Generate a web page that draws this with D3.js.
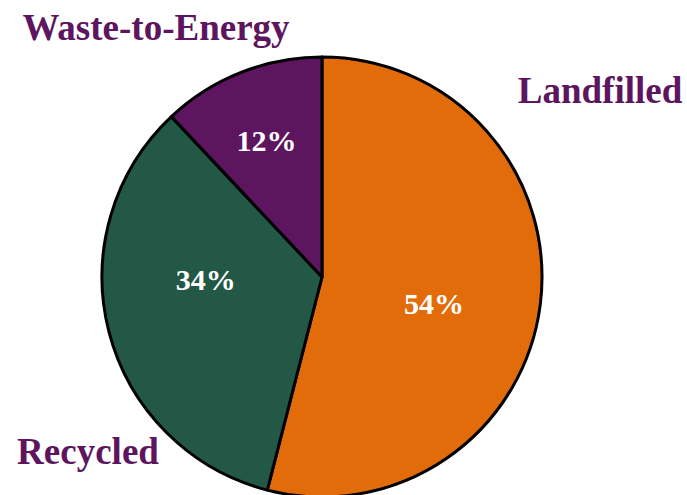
<!DOCTYPE html>
<html>
<head>
<meta charset="utf-8">
<script src="https://cdn.jsdelivr.net/npm/d3@7"></script>
<style>
  body { margin: 0; background: #fff; }
  svg { display: block; }
</style>
</head>
<body>
<div id="chart"></div>
<script>
// shares of waste, clockwise from 12 o'clock
var categories = ["Landfilled", "Recycled", "Waste-to-Energy"]
var shares = [54, 34, 12]
var colors = ["#e36c0a", "#235846", "#5c155e"]

var w = 687
var h = 495
var cx = 322
var cy = 277
var radius = 220

// where the outside category names sit
var namePos = {
  "Landfilled": [600, 103],
  "Recycled": [88, 464],
  "Waste-to-Energy": [156, 40]
}
// the percent labels are not on the plain centroid, nudge them a bit
var pctNudge = {
  "Landfilled": [-8, 11],
  "Recycled": [1, -28],
  "Waste-to-Energy": [-11, -24]
}

var data = categories.map((c, i) => ({ name: c, value: shares[i], color: colors[i] }))

var svg = d3.select("#chart")
            .append("svg")
            .attr("width", w)
            .attr("height", h)

var pie = d3.pie()
    .sort(null)
    .value(d => d.value)

var arc = d3.arc()
    .innerRadius(0)
    .outerRadius(radius)

var labelArc = d3.arc()
    .innerRadius(radius * 0.55)
    .outerRadius(radius * 0.55)

var g = svg.append("g")
   .attr("transform", "translate(" + cx + "," + cy + ")")

var arcs = pie(data)

g.selectAll("path")
 .data(arcs)
 .enter()
 .append("path")
 .attr("d", arc)
 .attr("fill", d => d.data.color)
 .attr("stroke", "#000")
 .attr("stroke-width", 3)
 .attr("stroke-linejoin", "round")

// percentages inside the slices
g.selectAll("text.pct")
 .data(arcs)
 .enter()
 .append("text")
 .attr("class", "pct")
 .text(d => d.data.value + "%")
 .attr("x", d => labelArc.centroid(d)[0] + pctNudge[d.data.name][0])
 .attr("y", d => labelArc.centroid(d)[1] + pctNudge[d.data.name][1])
 .attr("text-anchor", "middle")
 .attr("dy", "0.35em")
 .attr("font-family", "'Liberation Serif', 'Times New Roman', serif")
 .attr("font-weight", "bold")
 .attr("font-size", "30px")
 .attr("fill", "#fff")

// category names
svg.selectAll("text.name")
   .data(data)
   .enter()
   .append("text")
   .attr("class", "name")
   .text(d => d.name)
   .attr("x", d => namePos[d.name][0])
   .attr("y", d => namePos[d.name][1])
   .attr("text-anchor", "middle")
   .attr("font-family", "'Liberation Serif', 'Times New Roman', serif")
   .attr("font-weight", "bold")
   .attr("font-size", "37px")
   .attr("fill", "#5c155e")
</script>
</body>
</html>
